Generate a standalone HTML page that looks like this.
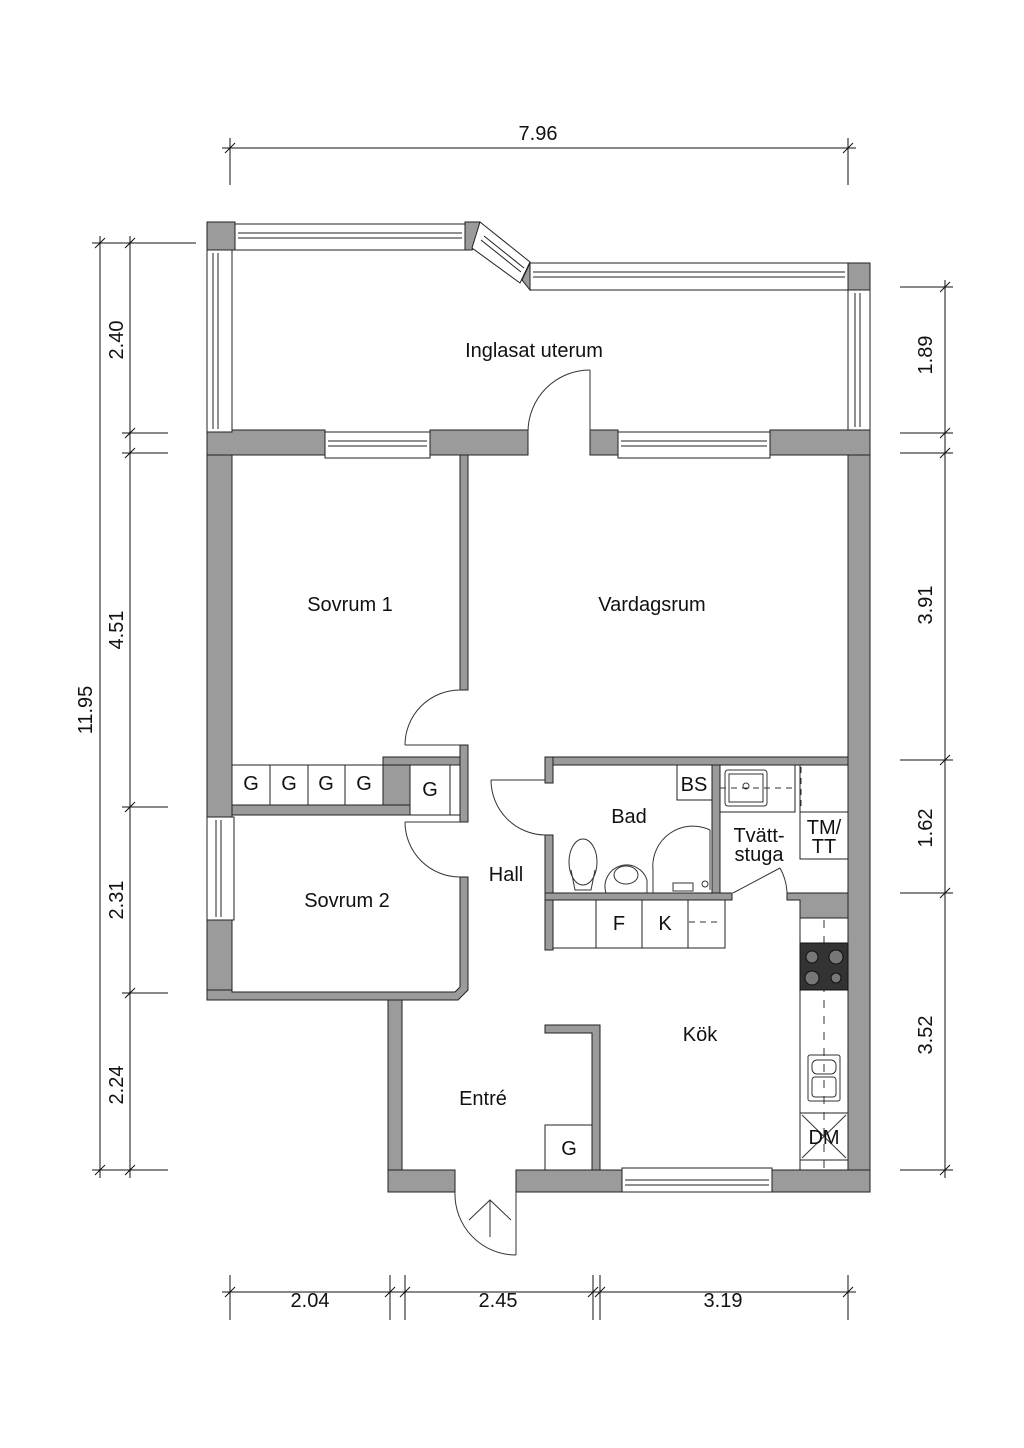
<!DOCTYPE html>
<html><head><style>body{margin:0;background:#fff}svg{display:block}text{font-family:"Liberation Sans",sans-serif;font-size:20px;fill:#111}</style></head>
<body>
<svg width="1024" height="1448" viewBox="0 0 1024 1448" xmlns="http://www.w3.org/2000/svg">
<g stroke="#111" stroke-width="1" fill="none">
<line x1="222" y1="148" x2="856" y2="148"/>
<line x1="230" y1="138" x2="230" y2="185"/><line x1="848" y1="138" x2="848" y2="185"/>
<line x1="225" y1="153" x2="235" y2="143"/><line x1="843" y1="153" x2="853" y2="143"/>
<line x1="100" y1="236" x2="100" y2="1178"/>
<line x1="92" y1="243" x2="196" y2="243"/><line x1="92" y1="1170" x2="168" y2="1170"/>
<line x1="95" y1="248" x2="105" y2="238"/><line x1="95" y1="1175" x2="105" y2="1165"/>
<line x1="130" y1="236" x2="130" y2="1178"/>
<g>
<line x1="122" y1="433" x2="168" y2="433"/><line x1="122" y1="453" x2="168" y2="453"/>
<line x1="122" y1="807" x2="168" y2="807"/><line x1="122" y1="993" x2="168" y2="993"/>
<line x1="125" y1="248" x2="135" y2="238"/><line x1="125" y1="438" x2="135" y2="428"/><line x1="125" y1="458" x2="135" y2="448"/>
<line x1="125" y1="812" x2="135" y2="802"/><line x1="125" y1="998" x2="135" y2="988"/><line x1="125" y1="1175" x2="135" y2="1165"/>
</g>
<line x1="945" y1="280" x2="945" y2="1178"/>
<line x1="900" y1="287" x2="953" y2="287"/><line x1="900" y1="433" x2="953" y2="433"/><line x1="900" y1="453" x2="953" y2="453"/>
<line x1="900" y1="760" x2="953" y2="760"/><line x1="900" y1="893" x2="953" y2="893"/><line x1="900" y1="1170" x2="953" y2="1170"/>
<line x1="940" y1="292" x2="950" y2="282"/><line x1="940" y1="438" x2="950" y2="428"/><line x1="940" y1="458" x2="950" y2="448"/>
<line x1="940" y1="765" x2="950" y2="755"/><line x1="940" y1="898" x2="950" y2="888"/><line x1="940" y1="1175" x2="950" y2="1165"/>
<line x1="222" y1="1292" x2="856" y2="1292"/>
<line x1="230" y1="1275" x2="230" y2="1320"/><line x1="390" y1="1275" x2="390" y2="1320"/><line x1="405" y1="1275" x2="405" y2="1320"/>
<line x1="593" y1="1275" x2="593" y2="1320"/><line x1="600" y1="1275" x2="600" y2="1320"/><line x1="848" y1="1275" x2="848" y2="1320"/>
<line x1="225" y1="1297" x2="235" y2="1287"/><line x1="385" y1="1297" x2="395" y2="1287"/><line x1="400" y1="1297" x2="410" y2="1287"/>
<line x1="588" y1="1297" x2="598" y2="1287"/><line x1="595" y1="1297" x2="605" y2="1287"/><line x1="843" y1="1297" x2="853" y2="1287"/>
</g>
<text x="538" y="140" text-anchor="middle">7.96</text>
<text transform="translate(92,710) rotate(-90)" text-anchor="middle">11.95</text>
<text transform="translate(123,340) rotate(-90)" text-anchor="middle">2.40</text>
<text transform="translate(123,630) rotate(-90)" text-anchor="middle">4.51</text>
<text transform="translate(123,900) rotate(-90)" text-anchor="middle">2.31</text>
<text transform="translate(123,1085) rotate(-90)" text-anchor="middle">2.24</text>
<text transform="translate(932,355) rotate(-90)" text-anchor="middle">1.89</text>
<text transform="translate(932,605) rotate(-90)" text-anchor="middle">3.91</text>
<text transform="translate(932,828) rotate(-90)" text-anchor="middle">1.62</text>
<text transform="translate(932,1035) rotate(-90)" text-anchor="middle">3.52</text>
<text x="310" y="1307" text-anchor="middle">2.04</text>
<text x="498" y="1307" text-anchor="middle">2.45</text>
<text x="723" y="1307" text-anchor="middle">3.19</text>

<g fill="#9b9b9b" stroke="#222" stroke-width="1">
<rect x="207" y="222" width="28" height="28"/>
<polygon points="465,222 480,222 490,235 472,250 465,250"/>
<polygon points="530,263 522,280 530,290 530,263"/>
<rect x="848" y="263" width="22" height="27"/>
<rect x="207" y="430" width="118" height="25"/>
<rect x="430" y="430" width="98" height="25"/>
<rect x="590" y="430" width="28" height="25"/>
<rect x="770" y="430" width="100" height="25"/>
<rect x="207" y="455" width="25" height="362"/>
<rect x="207" y="920" width="25" height="80"/>
<rect x="848" y="455" width="22" height="737"/>
<rect x="460" y="455" width="8" height="235"/>
<rect x="460" y="745" width="8" height="77"/>
<polygon points="460,877 468,877 468,990 458,1000 207,1000 207,990 232,990 232,992 455,992 460,987"/>
<rect x="232" y="805" width="228" height="10"/>
<rect x="383" y="757" width="27" height="48"/>
<rect x="383" y="757" width="77" height="8"/>
<rect x="388" y="1000" width="14" height="192"/>
<rect x="388" y="1170" width="67" height="22"/>
<rect x="516" y="1170" width="106" height="22"/>
<rect x="772" y="1170" width="98" height="22"/>
<polygon points="545,1025 600,1025 600,1170 592,1170 592,1033 545,1033"/>
<rect x="545" y="757" width="303" height="8"/>
<rect x="545" y="757" width="8" height="26"/>
<rect x="545" y="835" width="8" height="115"/>
<rect x="712" y="765" width="8" height="128"/>
<rect x="545" y="893" width="187" height="7"/>
<polygon points="787,893 848,893 848,918 800,918 800,900 787,900"/>
</g>
<g fill="#fff" stroke="#222" stroke-width="1">
<rect x="235" y="224" width="230" height="26"/><line x1="238" y1="233" x2="462" y2="233"/><line x1="238" y1="238" x2="462" y2="238"/>
<polygon points="480,222 530,262 520,283 472,248"/>
<line x1="484" y1="236" x2="524" y2="268"/><line x1="481" y1="240" x2="521" y2="272"/>
<rect x="530" y="263" width="318" height="27"/><line x1="533" y1="272" x2="845" y2="272"/><line x1="533" y1="277" x2="845" y2="277"/>
<rect x="207" y="250" width="25" height="182"/><line x1="213" y1="253" x2="213" y2="429"/><line x1="218" y1="253" x2="218" y2="429"/>
<rect x="848" y="290" width="22" height="140"/><line x1="855" y1="293" x2="855" y2="427"/><line x1="860" y1="293" x2="860" y2="427"/>
<rect x="325" y="432" width="105" height="26"/><line x1="328" y1="441" x2="427" y2="441"/><line x1="328" y1="446" x2="427" y2="446"/>
<rect x="618" y="432" width="152" height="26"/><line x1="621" y1="441" x2="767" y2="441"/><line x1="621" y1="446" x2="767" y2="446"/>
<rect x="207" y="817" width="27" height="103"/><line x1="216" y1="820" x2="216" y2="917"/><line x1="221" y1="820" x2="221" y2="917"/>
<rect x="622" y="1168" width="150" height="24"/><line x1="625" y1="1180" x2="769" y2="1180"/><line x1="625" y1="1185" x2="769" y2="1185"/>
<rect x="232" y="765" width="38" height="40"/><rect x="270" y="765" width="38" height="40"/><rect x="308" y="765" width="37" height="40"/><rect x="345" y="765" width="38" height="40"/>
<rect x="410" y="765" width="40" height="50"/><rect x="450" y="765" width="10" height="50"/>
<rect x="545" y="1125" width="47" height="45"/>
<rect x="553" y="900" width="43" height="48"/><rect x="596" y="900" width="46" height="48"/><rect x="642" y="900" width="46" height="48"/><rect x="688" y="900" width="37" height="48"/>
<rect x="677" y="765" width="35" height="35"/>
<rect x="720" y="765" width="75" height="47"/><rect x="800" y="765" width="48" height="47"/>
<rect x="800" y="812" width="48" height="47"/>
<rect x="800" y="918" width="48" height="252"/>
<rect x="800" y="1113" width="48" height="47"/>
</g>
<g stroke="#333" stroke-width="1" fill="none">
<line x1="689" y1="922" x2="722" y2="922" stroke-dasharray="6,5"/>
<line x1="720" y1="788" x2="795" y2="788" stroke-dasharray="6,5"/>
<line x1="801" y1="767" x2="801" y2="810" stroke-dasharray="6,5"/>
<line x1="824" y1="920" x2="824" y2="1168" stroke-dasharray="8,8"/>
<line x1="802" y1="1115" x2="846" y2="1158"/><line x1="846" y1="1115" x2="802" y2="1158"/>
<rect x="725" y="770" width="42" height="36" rx="3"/><rect x="729" y="774" width="34" height="28"/>
<circle cx="746" cy="786" r="3"/>
<rect x="808" y="1055" width="32" height="46" rx="2"/><rect x="812" y="1060" width="24" height="14" rx="5"/><rect x="812" y="1077" width="24" height="20" rx="3"/>
<path d="M590,370 A62,62 0 0 0 528,432"/><line x1="590" y1="370" x2="590" y2="432"/>
<path d="M460,690 A55,55 0 0 0 405,745"/><line x1="405" y1="745" x2="460" y2="745"/>
<path d="M405,822 A55,55 0 0 0 460,877"/><line x1="405" y1="822" x2="460" y2="822"/>
<path d="M491,780 A55,55 0 0 0 545,835"/><line x1="491" y1="780" x2="545" y2="780"/>
<path d="M455,1192 A61,61 0 0 0 516,1255"/><line x1="516" y1="1192" x2="516" y2="1255"/>
<line x1="490" y1="1237" x2="490" y2="1200"/><polyline points="469,1220 490,1200 511,1220"/>
<line x1="733" y1="893" x2="780" y2="868"/><path d="M780,868 A55,55 0 0 1 787,893"/>
<ellipse cx="583" cy="862" rx="14" ry="23"/><path d="M571,870 L575,890 L591,890 L595,870"/>
<path d="M606,893 A20,20 0 0 1 647,880 L647,893"/><ellipse cx="626" cy="875" rx="12" ry="9"/>
<path d="M653,893 L653,870 A40,40 0 0 1 710,830"/><line x1="710" y1="830" x2="710" y2="890"/>
<circle cx="705" cy="884" r="3"/><rect x="673" y="883" width="20" height="8"/>
</g>
<g fill="#333" stroke="#111">
<rect x="800" y="943" width="48" height="47"/>
<circle cx="812" cy="957" r="6" fill="#777"/><circle cx="836" cy="957" r="7" fill="#777"/><circle cx="812" cy="978" r="7" fill="#777"/><circle cx="836" cy="978" r="5" fill="#777"/>
</g>
<text x="534" y="357" text-anchor="middle">Inglasat uterum</text>
<text x="350" y="611" text-anchor="middle">Sovrum 1</text>
<text x="652" y="611" text-anchor="middle">Vardagsrum</text>
<text x="347" y="907" text-anchor="middle">Sovrum 2</text>
<text x="506" y="881" text-anchor="middle">Hall</text>
<text x="629" y="823" text-anchor="middle">Bad</text>
<text x="759" y="842" text-anchor="middle">Tvätt-</text><text x="759" y="861" text-anchor="middle">stuga</text>
<text x="824" y="834" text-anchor="middle">TM/</text><text x="824" y="853" text-anchor="middle">TT</text>
<text x="694" y="791" text-anchor="middle">BS</text>
<text x="700" y="1041" text-anchor="middle">Kök</text>
<text x="483" y="1105" text-anchor="middle">Entré</text>
<text x="824" y="1144" text-anchor="middle">DM</text>
<text x="619" y="930" text-anchor="middle">F</text><text x="665" y="930" text-anchor="middle">K</text>
<text x="569" y="1155" text-anchor="middle">G</text>
<text x="251" y="790" text-anchor="middle">G</text><text x="289" y="790" text-anchor="middle">G</text><text x="326" y="790" text-anchor="middle">G</text><text x="364" y="790" text-anchor="middle">G</text>
<text x="430" y="796" text-anchor="middle">G</text>
</svg>
</body></html>
